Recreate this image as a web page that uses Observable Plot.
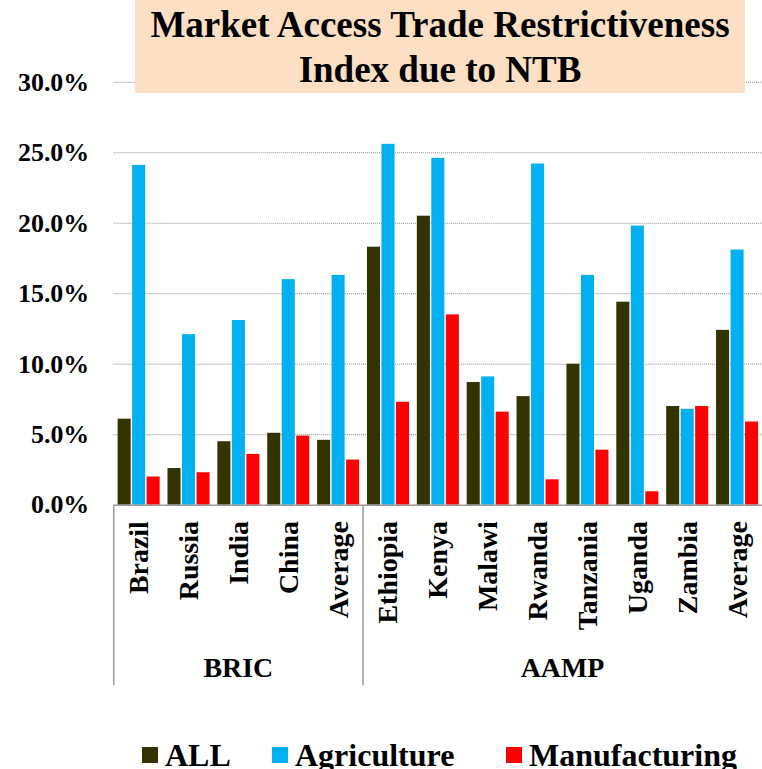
<!DOCTYPE html>
<html>
<head>
<meta charset="utf-8">
<script src="https://cdn.jsdelivr.net/npm/d3@7"></script>
<script src="https://cdn.jsdelivr.net/npm/@observablehq/plot@0.6"></script>
<style>
  html, body { margin: 0; padding: 0; background: #fff; }
  #wrap { position: relative; width: 762px; height: 769px; overflow: hidden; background: #fff; }
  #wrap svg { font-family: "Liberation Serif", "Times New Roman", serif; font-weight: bold; overflow: visible; }
  #wrap svg text { fill: #000; font-family: "Liberation Serif", "Times New Roman", serif !important; font-weight: bold !important; }
  #title {
    position: absolute; left: 135px; top: 0; width: 610px; height: 93px;
    background: #FDDFC4; text-align: center;
    font-family: "Liberation Serif", "Times New Roman", serif; font-weight: bold;
    font-size: 37px; line-height: 45px; padding-top: 2px; box-sizing: border-box; color: #000;
  }
  .leg { position: absolute; top: 739px; height: 32px; display: flex; align-items: center;
    font-family: "Liberation Serif", "Times New Roman", serif; font-weight: bold; font-size: 32px; line-height: 32px; color: #000; }
  .leg .sw { width: 16px; height: 16px; margin-right: 7px; }
</style>
</head>
<body>
<div id="wrap"></div>
<script>
// ---- data ----
const categories = ["Brazil","Russia","India","China","Average","Ethiopia","Kenya","Malawi","Rwanda","Tanzania","Uganda","Zambia","Average"];
const groups = ["BRIC","BRIC","BRIC","BRIC","BRIC","AAMP","AAMP","AAMP","AAMP","AAMP","AAMP","AAMP","AAMP"];
const seriesNames = ["ALL","Agriculture","Manufacturing"];
const seriesColors = ["#333300","#00B0F0","#FF0000"];
const allValues  = [6.1, 2.6, 4.5, 5.1, 4.6, 18.3, 20.5, 8.7, 7.7, 10.0, 14.4, 7.0, 12.4];
const agriValues = [24.1, 12.1, 13.1, 16.0, 16.3, 25.6, 24.6, 9.1, 24.2, 16.3, 19.8, 6.8, 18.1];
const manuValues = [2.0, 2.3, 3.6, 4.9, 3.2, 7.3, 13.5, 6.6, 1.8, 3.9, 0.95, 7.0, 5.9];
const yTicks = [0, 5, 10, 15, 20, 25, 30];
const titleLines = ["Market Access Trade Restrictiveness", "Index due to NTB"];

// ---- table ----
const keys = categories.map((c, i) => groups[i] + "|" + i + "|" + c);
const seriesValues = [allValues, agriValues, manuValues];
const rows = [];
keys.forEach((k, i) => {
  seriesNames.forEach((s, j) => rows.push({key: k, series: s, value: seriesValues[j][i]}));
});

const wrap = document.getElementById("wrap");
const serif = "Liberation Serif, Times New Roman, serif";

const chart = Plot.plot({
  width: 764,
  height: 769,
  marginLeft: 114,
  marginRight: 0,
  marginTop: 82,
  marginBottom: 263,
  style: {fontFamily: serif, fontWeight: "bold", overflow: "visible"},
  fx: {domain: keys, padding: 0, round: false, axis: null, label: null},
  x: {domain: seriesNames, paddingInner: 0.1, paddingOuter: 0.27, round: false, axis: null},
  y: {domain: [0, 30], axis: null},
  color: {domain: seriesNames, range: seriesColors},
  marks: [
    Plot.ruleY(yTicks.slice(1), {stroke: "#8a8a8a", strokeDasharray: "1,1", strokeWidth: 1}),
    Plot.barY(rows, {fx: "key", x: "series", y: "value", fill: "series"}),
    Plot.ruleY([0], {stroke: "#9a9a9a", strokeWidth: 1.5}),
    Plot.axisY({ticks: yTicks, tickSize: 0, tickPadding: 25, fontSize: 26, label: null,
      tickFormat: d => d.toFixed(1) + "%"}),
    Plot.axisFx({anchor: "bottom", tickSize: 0, tickPadding: 16, tickRotate: -90, fontSize: 28, label: null,
      tickFormat: k => k.split("|")[2]})
  ]
});
wrap.appendChild(chart);

// group separators and group labels, positioned with the fx and y scales
const fxs = chart.scale("fx");
const ys = chart.scale("y");
const step = (fxs.range[1] - fxs.range[0]) / fxs.domain.length;
const y0 = ys.range[0];
const svg = d3.select(chart);
const groupNames = Array.from(new Set(groups));
const sepG = svg.append("g");
groupNames.forEach(g => {
  const first = groups.indexOf(g);
  const last = groups.lastIndexOf(g);
  const xa = fxs.range[0] + first * step;
  const xb = fxs.range[0] + (last + 1) * step;
  sepG.append("line")
    .attr("x1", xa).attr("x2", xa).attr("y1", y0).attr("y2", y0 + 181)
    .attr("stroke", "#9a9a9a").attr("stroke-width", 1.5);
  sepG.append("text")
    .attr("x", (xa + xb) / 2).attr("y", y0 + 173)
    .attr("text-anchor", "middle").attr("font-size", 28)
    .text(g);
});

// title box
const title = document.createElement("div");
title.id = "title";
title.innerHTML = titleLines.join("<br>");
wrap.appendChild(title);

// legend
const legendLeft = [142, 272, 506];
seriesNames.forEach((s, i) => {
  const d = document.createElement("div");
  d.className = "leg";
  d.style.left = legendLeft[i] + "px";
  d.innerHTML = `<span class="sw" style="background:${seriesColors[i]}"></span><span>${s}</span>`;
  wrap.appendChild(d);
});
</script>
</body>
</html>
